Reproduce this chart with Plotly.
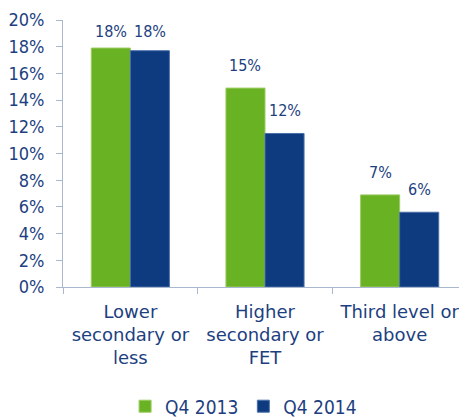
import plotly.graph_objects as go

categories = ["Lower<br>secondary or<br>less", "Higher<br>secondary or<br>FET", "Third level or<br>above"]
q4_2013 = [17.9, 14.9, 6.9]
q4_2014 = [17.7, 11.5, 5.6]
labels_2013 = ["18%", "15%", "7%"]
labels_2014 = ["18%", "12%", "6%"]
y_ticks = [0, 2, 4, 6, 8, 10, 12, 14, 16, 18, 20]
y_tick_labels = [f"{v}%" for v in y_ticks]

TEXT = "#1D3F7F"
FONT = "DejaVu Sans Condensed, DejaVu Sans, sans-serif"
WIDE = "DejaVu Sans, sans-serif"
# the page body has an 8px margin, so the figure is sized to fit the window
W, H = 459, 411
ML, MR, MT, MB = 55, 0, 12, 132
BARGAP = 0.42
Y_MAX = 20

fig = go.Figure()
fig.add_trace(go.Bar(
    name="Q4 2013", x=categories, y=q4_2013,
    marker=dict(color="#69B224", line=dict(color="#9CCB62", width=1)),
))
fig.add_trace(go.Bar(
    name="Q4 2014", x=categories, y=q4_2014,
    marker=dict(color="#0E3A80", line=dict(color="#4A6FA8", width=1)),
))

# value labels above bars (kept inside the plot area near the top, as in the source)
cat_px = (W - ML - MR) / len(categories)
bar_px = cat_px * (1 - BARGAP) / 2
unit_px = (H - MT - MB) / Y_MAX
for vals, labs, sign in [(q4_2013, labels_2013, -1), (q4_2014, labels_2014, 1)]:
    for c, v, t in zip(categories, vals, labs):
        room = (Y_MAX - v) * unit_px - 23
        fig.add_annotation(x=c, y=v, text=t, showarrow=False,
                           xshift=sign * bar_px / 2, yshift=max(4, min(11, room)),
                           yanchor="bottom",
                           font=dict(size=16, color=TEXT, family=FONT))

fig.update_layout(
    width=W, height=H,
    margin=dict(l=ML, r=MR, t=MT, b=MB),
    paper_bgcolor="white", plot_bgcolor="white",
    barmode="group", bargap=BARGAP, bargroupgap=0,
    font=dict(family=FONT, color=TEXT, size=18),
    showlegend=True,
    legend=dict(orientation="h", x=0.447, xref="paper", xanchor="center",
                y=0.077, yref="container", yanchor="top",
                font=dict(size=19, color=TEXT, family=FONT),
                itemwidth=30, traceorder="normal"),
)
fig.update_yaxes(
    range=[0, Y_MAX], tickvals=y_ticks, ticktext=y_tick_labels,
    showgrid=False, showline=True, linecolor="#A9B7CF", linewidth=1,
    ticks="outside", ticklen=6, tickcolor="#A9B7CF", ticklabelstandoff=8,
    tickfont=dict(size=18, color=TEXT, family=FONT), zeroline=False,
    automargin=False,
)
fig.update_xaxes(
    showline=True, linecolor="#A9B7CF", linewidth=1,
    ticks="outside", tickson="boundaries", ticklen=6, tickcolor="#A9B7CF",
    ticklabelstandoff=8,
    tickfont=dict(size=18, color=TEXT, family=WIDE), automargin=False,
)

fig.write_html("out.html")
